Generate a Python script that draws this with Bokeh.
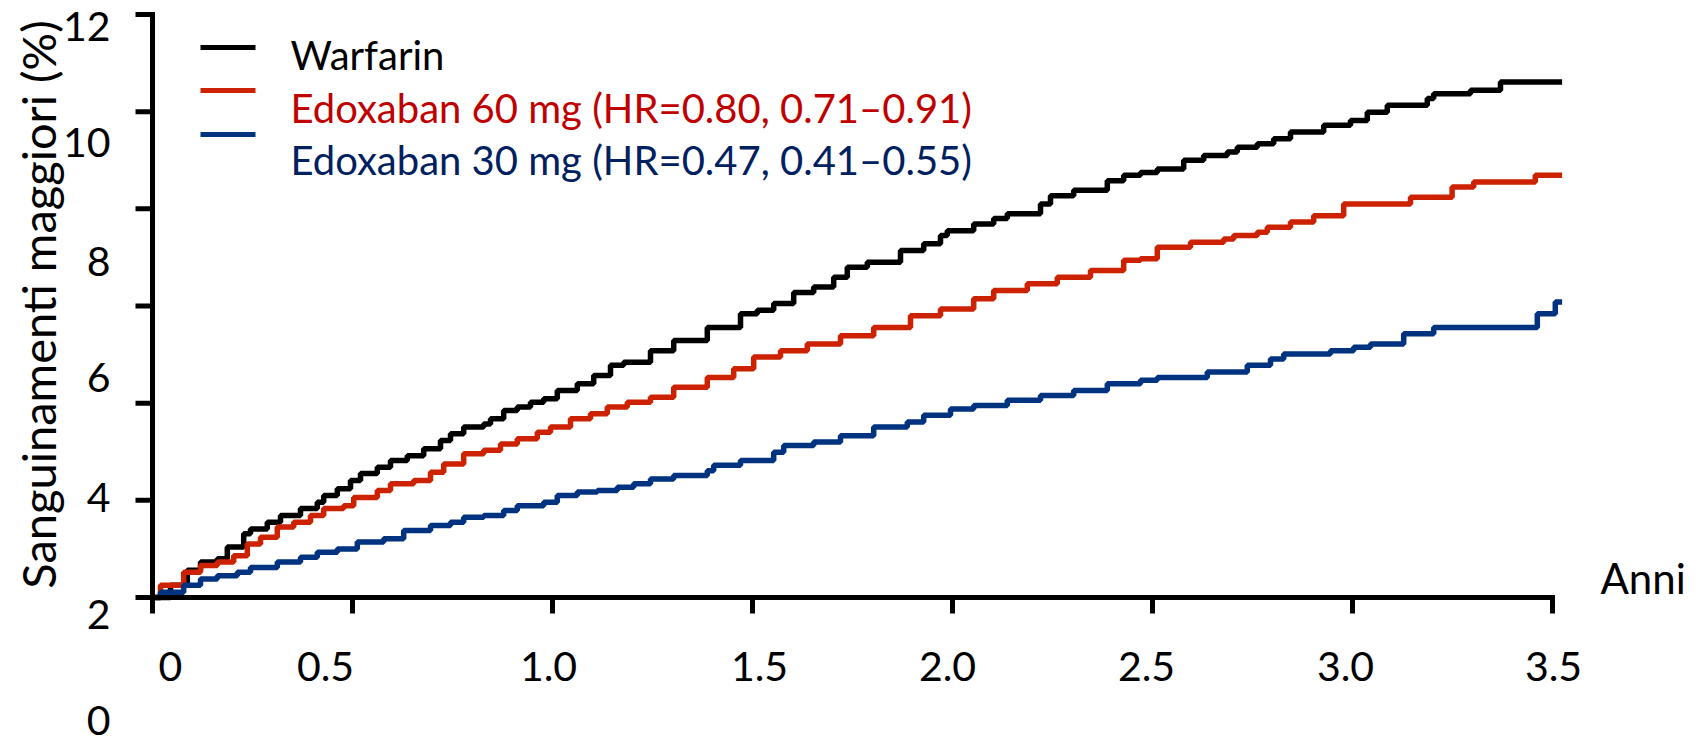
import math
from bokeh.plotting import figure
from bokeh.models import Range1d, ColumnDataSource
from bokeh.core.properties import value
from bokeh.embed import file_html
from bokeh.resources import INLINE

# ---------------- data ----------------
SERIES_NAMES = ["Warfarin",
                "Edoxaban 60 mg (HR=0.80, 0.71\u20130.91)",
                "Edoxaban 30 mg (HR=0.47, 0.41\u20130.55)"]

warfarin_t = [0, 0.045, 0.087, 0.12, 0.162, 0.187, 0.228, 0.245, 0.287, 0.32, 0.37, 0.412, 0.428, 0.462,
              0.495, 0.52, 0.562, 0.595, 0.637, 0.678, 0.72, 0.745, 0.778, 0.828, 0.845, 0.878, 0.912,
              0.945, 0.978, 1.012, 1.062, 1.103, 1.145, 1.178, 1.245, 1.303, 1.387, 1.47, 1.512, 1.553,
              1.603, 1.653, 1.703, 1.737, 1.787, 1.87, 1.928, 1.97, 1.987, 2.053, 2.103, 2.137, 2.22,
              2.245, 2.303, 2.387, 2.428, 2.47, 2.512, 2.578, 2.628, 2.687, 2.712, 2.762, 2.803, 2.845,
              2.928, 2.995, 3.037, 3.087, 3.187, 3.203, 3.295, 3.37, 3.524]
warfarin_v = [0, 0.25, 0.56, 0.73, 0.80, 1.04, 1.31, 1.41, 1.55, 1.69, 1.83, 1.96, 2.10, 2.24,
              2.41, 2.55, 2.68, 2.82, 2.92, 3.06, 3.23, 3.37, 3.51, 3.57, 3.68, 3.85, 3.92,
              4.02, 4.09, 4.26, 4.40, 4.57, 4.78, 4.84, 5.08, 5.29, 5.56, 5.84, 5.91, 6.05,
              6.28, 6.39, 6.59, 6.80, 6.90, 7.14, 7.28, 7.45, 7.55, 7.69, 7.80, 7.90, 8.10,
              8.27, 8.38, 8.58, 8.69, 8.75, 8.82, 9.00, 9.10, 9.17, 9.27, 9.34, 9.44, 9.58,
              9.72, 9.82, 9.99, 10.13, 10.27, 10.37, 10.44, 10.61, 10.61]

edo60_t = [0, 0.02, 0.078, 0.12, 0.162, 0.203, 0.237, 0.27, 0.312, 0.353, 0.395, 0.428, 0.478, 0.503,
           0.562, 0.595, 0.653, 0.695, 0.728, 0.778, 0.828, 0.87, 0.912, 0.962, 0.995, 1.045, 1.095,
           1.137, 1.187, 1.245, 1.303, 1.387, 1.453, 1.503, 1.57, 1.637, 1.72, 1.803, 1.895, 1.97,
           2.053, 2.103, 2.187, 2.262, 2.345, 2.428, 2.47, 2.512, 2.595, 2.678, 2.703, 2.762, 2.787,
           2.845, 2.903, 2.978, 3.145, 3.249, 3.303, 3.457, 3.524]
edo60_v = [0, 0.25, 0.52, 0.66, 0.73, 0.86, 1.10, 1.24, 1.45, 1.55, 1.69, 1.83, 1.89, 2.06,
           2.20, 2.34, 2.41, 2.58, 2.75, 2.96, 3.03, 3.16, 3.27, 3.40, 3.51, 3.68, 3.78,
           3.92, 4.02, 4.12, 4.33, 4.53, 4.71, 4.95, 5.08, 5.22, 5.39, 5.56, 5.80, 5.94,
           6.15, 6.32, 6.46, 6.59, 6.73, 6.94, 6.97, 7.21, 7.31, 7.38, 7.45, 7.52, 7.62,
           7.73, 7.86, 8.10, 8.24, 8.45, 8.55, 8.69, 8.69]

edo30_t = [0, 0.02, 0.078, 0.12, 0.162, 0.212, 0.245, 0.312, 0.37, 0.412, 0.462, 0.512, 0.578, 0.628,
           0.695, 0.745, 0.778, 0.828, 0.878, 0.912, 0.978, 1.012, 1.062, 1.112, 1.162, 1.203, 1.245,
           1.303, 1.387, 1.403, 1.47, 1.553, 1.578, 1.653, 1.72, 1.803, 1.887, 1.928, 1.995, 2.053,
           2.137, 2.22, 2.303, 2.387, 2.47, 2.512, 2.637, 2.737, 2.795, 2.828, 2.945, 3.003, 3.045,
           3.128, 3.203, 3.462, 3.507, 3.524]
edo30_v = [0, 0.11, 0.25, 0.38, 0.45, 0.52, 0.62, 0.73, 0.83, 0.93, 1.00, 1.14, 1.21, 1.38,
           1.48, 1.55, 1.65, 1.69, 1.79, 1.89, 1.96, 2.10, 2.17, 2.20, 2.27, 2.34, 2.44,
           2.51, 2.61, 2.72, 2.82, 2.99, 3.13, 3.20, 3.33, 3.51, 3.61, 3.75, 3.88, 3.95,
           4.06, 4.16, 4.26, 4.40, 4.47, 4.53, 4.64, 4.78, 4.91, 5.01, 5.08, 5.15, 5.22,
           5.43, 5.56, 5.84, 6.08, 6.08]

X_TICKS = [0, 0.5, 1.0, 1.5, 2.0, 2.5, 3.0, 3.5]
X_TICK_LABELS = ["0", "0.5", "1.0", "1.5", "2.0", "2.5", "3.0", "3.5"]
Y_TICKS = [0, 2, 4, 6, 8, 10, 12]
Y_TICK_LABELS = ["0", "2", "4", "6", "8", "10", "12"]
X_TITLE = "Anni"
Y_TITLE = "Sanguinamenti maggiori (%)"

# ---------------- styles / layout ----------------
FONT = "Lato"
LINE_COLORS = ["#000000", "#CC2200", "#00337F"]
TEXT_COLORS = ["#000000", "#C00000", "#002060"]

W, H = 1700, 747
PX_PER_YEAR = 400.0
PX_PER_PCT = 583.0 / 12.0
X0_PX, Y0_PX = 152.0, 597.0      # canvas position of data (0, 0)
TEXT_SHIFT = 16                  # the text glyph draws its baseline this far below its anchor


def dx(px):
    return (px - X0_PX) / PX_PER_YEAR


def dy(py):
    return (Y0_PX - py) / PX_PER_PCT


def ty(py):
    # anchor for a text whose baseline should appear at canvas row py
    return dy(py - TEXT_SHIFT)


# pixel placement of the texts as they sit in the reference
Y_TICK_OUT = 17
X_TICK_OUT = 16
Y_LABEL_RIGHT = 110
Y_LABEL_BASE = [736, 630, 513, 393, 277, 158, 42]
X_LABEL_CENTER = [170, 325, 548, 759, 947, 1146, 1345, 1553]
X_LABEL_BASE = 682
LEG_LINE_X = (200, 255)
LEG_LINE_Y = [47, 90, 134]
LEG_TEXT_X = 290
LEG_TEXT_BASE = [70, 123, 175]

# the frame covers the whole canvas so that texts lying outside the axes are not clipped
p = figure(width=W, height=H,
           x_range=Range1d(dx(0), dx(W)), y_range=Range1d(dy(H), dy(0)),
           output_backend="svg", toolbar_location=None,
           x_axis_location=None, y_axis_location=None,
           min_border=0)
p.outline_line_color = None
p.grid.visible = False
p.background_fill_color = "white"
p.border_fill_color = "white"

# curves
for t, v, c in ((warfarin_t, warfarin_v, LINE_COLORS[0]),
                (edo60_t, edo60_v, LINE_COLORS[1]),
                (edo30_t, edo30_v, LINE_COLORS[2])):
    p.step(x=t, y=v, mode="after", line_width=5.5, line_color=c)

# axes: lines and ticks from the tick arrays
p.segment(x0=[X_TICKS[0], X_TICKS[0]], y0=[Y_TICKS[0], Y_TICKS[0]],
          x1=[X_TICKS[-1], X_TICKS[0]], y1=[Y_TICKS[0], Y_TICKS[-1]],
          line_color="black", line_width=5, line_cap="square")
p.segment(x0=[0] * len(Y_TICKS), x1=[dx(X0_PX - Y_TICK_OUT)] * len(Y_TICKS),
          y0=Y_TICKS, y1=Y_TICKS, line_color="black", line_width=5)
p.segment(x0=X_TICKS, x1=X_TICKS, y0=[0] * len(X_TICKS),
          y1=[dy(Y0_PX + X_TICK_OUT)] * len(X_TICKS), line_color="black", line_width=5)

# tick labels
p.text(x=[dx(Y_LABEL_RIGHT)] * len(Y_TICK_LABELS), y=[ty(b) for b in Y_LABEL_BASE],
       text=Y_TICK_LABELS, text_font=value(FONT), text_font_size="41px", text_color="black",
       text_align="right", text_baseline="alphabetic")
p.text(x=[dx(c) for c in X_LABEL_CENTER], y=[ty(X_LABEL_BASE)] * len(X_TICK_LABELS),
       text=X_TICK_LABELS, text_font=value(FONT), text_font_size="41px", text_color="black",
       text_align="center", text_baseline="alphabetic")

# axis titles
p.text(x=[dx(1600)], y=[ty(593)], text=[X_TITLE], text_font=value(FONT),
       text_font_size="42px", text_color="black", text_align="left", text_baseline="alphabetic")
p.text(x=[dx(53 - TEXT_SHIFT)], y=[dy(304)], text=[Y_TITLE], text_font=value(FONT),
       angle=math.pi / 2, text_font_size="47px", text_color="black",
       text_align="center", text_baseline="alphabetic")

# legend (sample lines sit above their texts as in the reference)
p.segment(x0=[dx(LEG_LINE_X[0])] * 3, x1=[dx(LEG_LINE_X[1])] * 3,
          y0=[dy(y) for y in LEG_LINE_Y], y1=[dy(y) for y in LEG_LINE_Y],
          line_color=LINE_COLORS, line_width=5)
leg_src = ColumnDataSource(dict(x=[dx(LEG_TEXT_X)] * 3, y=[ty(b) for b in LEG_TEXT_BASE],
                                text=SERIES_NAMES, color=TEXT_COLORS))
p.text(x="x", y="y", text="text", text_color="color", source=leg_src,
       text_font=value(FONT), text_font_size="40px",
       text_align="left", text_baseline="alphabetic")

open("out.html", "w").write(file_html(p, INLINE))
